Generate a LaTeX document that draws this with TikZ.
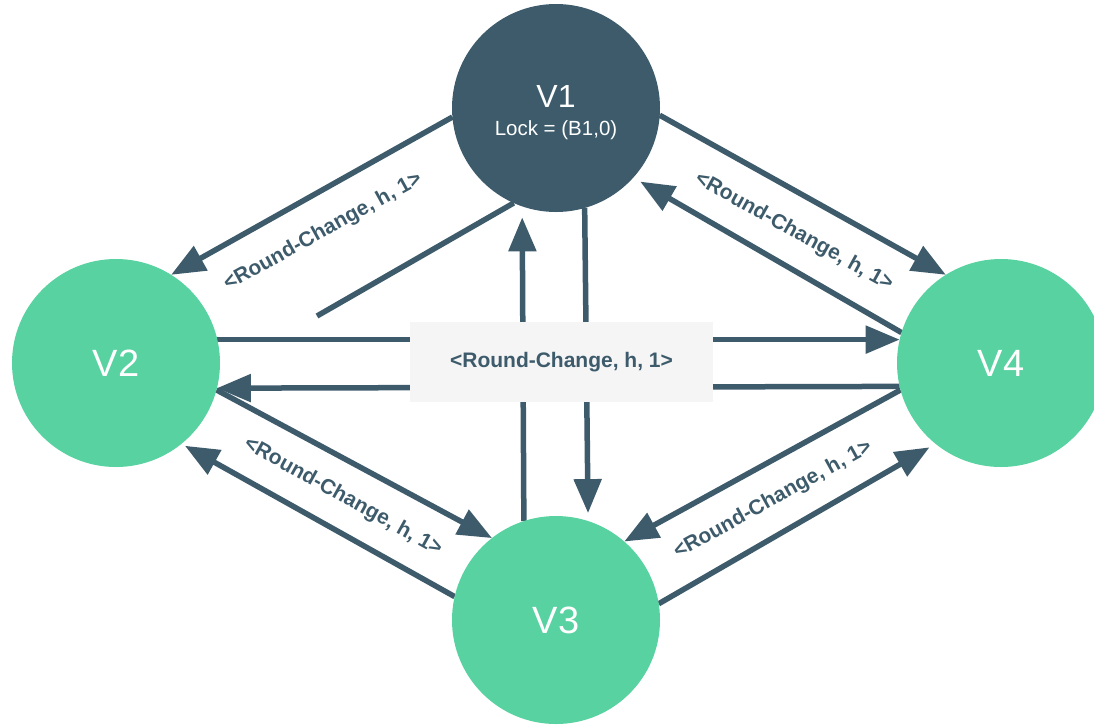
\documentclass[tikz,border=0pt]{standalone}
\usepackage{fontspec}
\setmainfont{Liberation Sans}
\usetikzlibrary{arrows.meta,backgrounds}
\definecolor{slate}{RGB}{61,91,107}
\definecolor{mint}{RGB}{88,210,161}
\definecolor{boxgray}{RGB}{245,245,245}

\begin{document}
\begin{tikzpicture}[x=1pt,y=-1pt,
  vertex/.style={circle,fill=mint,draw=none,minimum size=208pt,inner sep=0pt,outer sep=0pt,
                 text=white,font=\fontsize{38}{38}\selectfont},
  msg/.style={draw=slate,line width=5.5pt,-{Triangle[length=34pt,width=27pt]}},
  bare/.style={draw=slate,line width=5.5pt},
  lbl/.style={text=slate,font=\bfseries\fontsize{21}{21}\selectfont,inner sep=0pt}]
\useasboundingbox (0,0) rectangle (1094,724);
\clip (0,0) rectangle (1094,724);

% validators
\node[vertex,fill=slate] (v1) at (556,108) {};
\node[anchor=base,text=white,inner sep=0pt,font=\fontsize{32}{32}\selectfont] (v1name) at (556,107) {V1};
\node[anchor=base,text=white,inner sep=0pt,font=\fontsize{20.5}{20.5}\selectfont] (v1lock) at (556,135) {Lock = (B1,0)};
\node[vertex] (v2) at (116,363) {V2};
\node[vertex] (v3) at (556,620) {V3};
\node[vertex] (v4) at (1001,363) {V4};

% shared message box in the middle
\node[fill=boxgray,minimum width=303pt,minimum height=80pt,lbl] (hub) at (561.5,362) {<Round-Change, h, 1>};

\coordinate (stub) at (317,316);

% message arrows
\begin{scope}[on background layer]
\draw[msg] (v1.185.5) -- (v2.58.5);
\draw[bare] (v1.246.7) -- (stub);
\draw[msg] (v1.356) -- (v4.122.6);
\draw[msg,shorten >=8pt] (v4.163.8) -- (v1.318);
\draw[msg] (v2.13.4) -- (v4.167.2);
\draw[msg] (v4.193.6) -- (v2.346.8);
\draw[msg,shorten >=11pt] (v3.108.6) -- (v1.251.5);
\draw[msg,shorten >=8pt] (v1.286.8) -- (v3.72.1);
\draw[msg] (v2.345.5) -- (v3.128.2);
\draw[msg,shorten >=4pt] (v3.167.7) -- (v2.309);
\draw[msg] (v4.195.9) -- (v3.49);
\draw[msg,shorten >=7pt] (v3.9.5) -- (v4.231.6);
\end{scope}

% edge labels
\node[lbl,rotate=29] (l12) at (323,232) {<Round-Change, h, 1>};
\node[lbl,rotate=-29] (l14) at (794,232) {<Round-Change, h, 1>};
\node[lbl,rotate=-29] (l23) at (343,497) {<Round-Change, h, 1>};
\node[lbl,rotate=29] (l34) at (773,500) {<Round-Change, h, 1>};
\end{tikzpicture}
\end{document}
